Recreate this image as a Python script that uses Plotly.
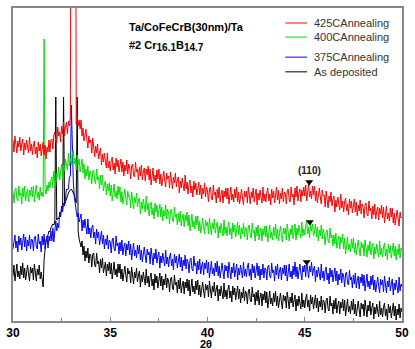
import plotly.graph_objects as go

# 2-theta sampling grid (degrees)
two_theta = [
    30.00, 30.05, 30.10, 30.15, 30.20, 30.25, 30.30, 30.35, 30.40, 30.45, 30.50, 30.55, 30.60, 30.65, 30.70, 30.75, 30.80, 30.85, 30.90, 30.95,
    31.00, 31.05, 31.10, 31.15, 31.20, 31.25, 31.30, 31.35, 31.40, 31.45, 31.50, 31.55, 31.60, 31.65, 31.70, 31.75, 31.80, 31.85, 31.90, 31.95,
    32.00, 32.05, 32.10, 32.15, 32.20, 32.25, 32.30, 32.35, 32.40, 32.45, 32.50, 32.55, 32.60, 32.65, 32.70, 32.75, 32.80, 32.85, 32.90, 32.95,
    33.00, 33.05, 33.10, 33.15, 33.20, 33.25, 33.30, 33.35, 33.40, 33.45, 33.50, 33.55, 33.60, 33.65, 33.70, 33.75, 33.80, 33.85, 33.90, 33.95,
    34.00, 34.05, 34.10, 34.15, 34.20, 34.25, 34.30, 34.35, 34.40, 34.45, 34.50, 34.55, 34.60, 34.65, 34.70, 34.75, 34.80, 34.85, 34.90, 34.95,
    35.00, 35.05, 35.10, 35.15, 35.20, 35.25, 35.30, 35.35, 35.40, 35.45, 35.50, 35.55, 35.60, 35.65, 35.70, 35.75, 35.80, 35.85, 35.90, 35.95,
    36.00, 36.05, 36.10, 36.15, 36.20, 36.25, 36.30, 36.35, 36.40, 36.45, 36.50, 36.55, 36.60, 36.65, 36.70, 36.75, 36.80, 36.85, 36.90, 36.95,
    37.00, 37.05, 37.10, 37.15, 37.20, 37.25, 37.30, 37.35, 37.40, 37.45, 37.50, 37.55, 37.60, 37.65, 37.70, 37.75, 37.80, 37.85, 37.90, 37.95,
    38.00, 38.05, 38.10, 38.15, 38.20, 38.25, 38.30, 38.35, 38.40, 38.45, 38.50, 38.55, 38.60, 38.65, 38.70, 38.75, 38.80, 38.85, 38.90, 38.95,
    39.00, 39.05, 39.10, 39.15, 39.20, 39.25, 39.30, 39.35, 39.40, 39.45, 39.50, 39.55, 39.60, 39.65, 39.70, 39.75, 39.80, 39.85, 39.90, 39.95,
    40.00, 40.05, 40.10, 40.15, 40.20, 40.25, 40.30, 40.35, 40.40, 40.45, 40.50, 40.55, 40.60, 40.65, 40.70, 40.75, 40.80, 40.85, 40.90, 40.95,
    41.00, 41.05, 41.10, 41.15, 41.20, 41.25, 41.30, 41.35, 41.40, 41.45, 41.50, 41.55, 41.60, 41.65, 41.70, 41.75, 41.80, 41.85, 41.90, 41.95,
    42.00, 42.05, 42.10, 42.15, 42.20, 42.25, 42.30, 42.35, 42.40, 42.45, 42.50, 42.55, 42.60, 42.65, 42.70, 42.75, 42.80, 42.85, 42.90, 42.95,
    43.00, 43.05, 43.10, 43.15, 43.20, 43.25, 43.30, 43.35, 43.40, 43.45, 43.50, 43.55, 43.60, 43.65, 43.70, 43.75, 43.80, 43.85, 43.90, 43.95,
    44.00, 44.05, 44.10, 44.15, 44.20, 44.25, 44.30, 44.35, 44.40, 44.45, 44.50, 44.55, 44.60, 44.65, 44.70, 44.75, 44.80, 44.85, 44.90, 44.95,
    45.00, 45.05, 45.10, 45.15, 45.20, 45.25, 45.30, 45.35, 45.40, 45.45, 45.50, 45.55, 45.60, 45.65, 45.70, 45.75, 45.80, 45.85, 45.90, 45.95,
    46.00, 46.05, 46.10, 46.15, 46.20, 46.25, 46.30, 46.35, 46.40, 46.45, 46.50, 46.55, 46.60, 46.65, 46.70, 46.75, 46.80, 46.85, 46.90, 46.95,
    47.00, 47.05, 47.10, 47.15, 47.20, 47.25, 47.30, 47.35, 47.40, 47.45, 47.50, 47.55, 47.60, 47.65, 47.70, 47.75, 47.80, 47.85, 47.90, 47.95,
    48.00, 48.05, 48.10, 48.15, 48.20, 48.25, 48.30, 48.35, 48.40, 48.45, 48.50, 48.55, 48.60, 48.65, 48.70, 48.75, 48.80, 48.85, 48.90, 48.95,
    49.00, 49.05, 49.10, 49.15, 49.20, 49.25, 49.30, 49.35, 49.40, 49.45, 49.50, 49.55, 49.60, 49.65, 49.70, 49.75, 49.80, 49.85, 49.90, 49.95,
    50.00,
]

# Intensities (arb. units, curves vertically offset as in the figure)
anneal_425 = [
    181, 169, 185, 173, 168, 180, 174, 184, 170, 177, 182, 166, 178, 171, 181, 174, 168, 184, 170, 177,
    166, 176, 180, 167, 174, 163, 179, 170, 177, 165, 171, 179, 166, 176, 162, 174, 169, 181, 169, 181,
    182, 172, 186, 189, 179, 178, 194, 185, 189, 179, 195, 187, 199, 185, 194, 199, 187, 200, 195, 205,
    650, 650, 650, 650, 650, 197, 204, 195, 201, 192, 201, 185, 193, 180, 189, 192, 181, 173, 185, 178,
    181, 168, 183, 170, 164, 175, 168, 177, 162, 168, 173, 156, 167, 159, 168, 160, 153, 168, 153, 160,
    150, 160, 164, 151, 158, 147, 163, 154, 161, 149, 154, 162, 149, 159, 145, 156, 150, 161, 147, 157,
    153, 142, 155, 157, 146, 144, 159, 149, 152, 141, 154, 145, 156, 141, 149, 153, 140, 152, 146, 155,
    141, 152, 136, 147, 153, 140, 146, 138, 151, 142, 152, 137, 147, 135, 146, 150, 141, 134, 148, 142,
    145, 133, 149, 137, 132, 144, 138, 148, 134, 141, 144, 128, 140, 133, 143, 136, 130, 146, 132, 139,
    127, 137, 141, 128, 135, 124, 140, 131, 138, 126, 131, 139, 126, 136, 122, 133, 127, 138, 124, 134,
    130, 119, 132, 134, 123, 121, 136, 126, 129, 118, 132, 123, 134, 119, 127, 131, 118, 130, 124, 133,
    122, 133, 117, 128, 134, 121, 127, 119, 132, 123, 134, 119, 129, 117, 128, 132, 123, 116, 130, 124,
    130, 118, 134, 122, 117, 129, 123, 133, 119, 126, 132, 116, 128, 121, 131, 124, 118, 134, 120, 127,
    119, 129, 133, 120, 127, 116, 132, 123, 130, 118, 126, 134, 121, 131, 117, 128, 122, 133, 119, 129,
    128, 117, 130, 132, 121, 119, 134, 124, 127, 116, 133, 124, 135, 120, 128, 132, 119, 131, 125, 134,
    125, 136, 120, 131, 137, 124, 130, 122, 135, 126, 135, 120, 130, 118, 129, 133, 124, 117, 131, 125,
    126, 114, 130, 118, 113, 125, 119, 129, 115, 122, 125, 109, 121, 114, 124, 117, 111, 127, 113, 120,
    109, 119, 123, 110, 117, 106, 122, 113, 120, 108, 114, 122, 109, 119, 105, 116, 110, 121, 107, 117,
    114, 103, 116, 118, 107, 105, 120, 110, 113, 102, 115, 106, 117, 102, 110, 114, 101, 113, 107, 116,
    103, 114, 98, 109, 115, 102, 108, 100, 113, 104, 113, 98, 108, 96, 107, 111, 102, 95, 109, 103,
    104,
]

anneal_400 = [
    129, 118, 131, 133, 122, 120, 135, 125, 128, 117, 133, 124, 135, 120, 128, 132, 119, 131, 125, 134,
    124, 135, 119, 130, 136, 123, 129, 121, 134, 125, 129, 124, 282, 131, 127, 136, 130, 139, 133, 141,
    144, 133, 150, 139, 135, 148, 143, 154, 141, 149, 157, 142, 156, 150, 162, 156, 151, 168, 155, 163,
    156, 167, 171, 157, 163, 151, 166, 156, 162, 149, 155, 162, 148, 157, 142, 152, 145, 155, 141, 150,
    149, 137, 150, 151, 140, 137, 152, 141, 144, 132, 146, 136, 146, 130, 137, 140, 126, 137, 130, 138,
    125, 136, 120, 131, 137, 124, 130, 122, 135, 126, 134, 119, 129, 117, 128, 132, 123, 116, 130, 124,
    125, 113, 129, 117, 112, 124, 118, 128, 114, 121, 123, 107, 119, 112, 122, 115, 109, 125, 111, 118,
    105, 115, 119, 106, 113, 102, 118, 109, 116, 104, 109, 117, 104, 114, 100, 111, 105, 116, 102, 112,
    108, 97, 110, 112, 101, 99, 114, 104, 107, 96, 108, 99, 110, 95, 103, 107, 94, 106, 100, 109,
    95, 106, 90, 101, 107, 94, 100, 92, 105, 96, 105, 90, 100, 88, 99, 103, 94, 87, 101, 95,
    99, 87, 103, 91, 86, 98, 92, 102, 88, 95, 99, 83, 95, 88, 98, 91, 85, 101, 87, 94,
    85, 95, 99, 86, 93, 82, 98, 89, 96, 84, 91, 99, 86, 96, 82, 93, 87, 98, 84, 94,
    92, 81, 94, 96, 85, 83, 98, 88, 91, 80, 94, 85, 96, 81, 89, 93, 80, 92, 86, 95,
    84, 95, 79, 90, 96, 83, 89, 81, 94, 85, 97, 82, 92, 80, 91, 95, 86, 79, 93, 87,
    93, 81, 97, 85, 80, 92, 86, 96, 82, 89, 97, 81, 93, 86, 96, 89, 83, 99, 85, 92,
    86, 96, 100, 87, 94, 83, 99, 90, 97, 85, 89, 97, 84, 94, 80, 91, 85, 96, 82, 92,
    87, 76, 89, 91, 80, 78, 93, 83, 86, 75, 86, 77, 88, 73, 81, 85, 72, 84, 78, 87,
    72, 83, 67, 78, 84, 71, 77, 69, 82, 73, 83, 68, 78, 66, 77, 81, 72, 65, 79, 73,
    77, 65, 81, 69, 64, 76, 70, 80, 66, 73, 78, 62, 74, 67, 77, 70, 64, 80, 66, 73,
    64, 74, 78, 65, 72, 61, 77, 68, 75, 63, 70, 78, 65, 75, 61, 72, 66, 77, 63, 73,
    70,
]

anneal_375 = [
    72, 82, 86, 73, 80, 69, 85, 76, 83, 71, 79, 87, 74, 84, 70, 81, 75, 86, 72, 82,
    81, 70, 83, 85, 74, 72, 87, 77, 80, 69, 85, 76, 87, 72, 81, 85, 73, 85, 80, 90,
    80, 93, 79, 92, 100, 90, 98, 93, 109, 104, 115, 109, 118, 115, 126, 132, 131, 132, 144, 145,
    216, 165, 140, 125, 115, 110, 104, 108, 99, 103, 107, 90, 101, 93, 102, 94, 87, 102, 87, 93,
    83, 93, 96, 83, 89, 77, 92, 83, 89, 76, 83, 90, 77, 86, 72, 82, 76, 86, 72, 81,
    79, 68, 81, 83, 72, 70, 85, 75, 78, 67, 79, 70, 81, 66, 74, 78, 65, 77, 71, 80,
    66, 77, 61, 72, 78, 65, 71, 63, 76, 67, 76, 61, 71, 59, 70, 74, 65, 58, 72, 66,
    69, 57, 73, 61, 56, 68, 62, 72, 58, 65, 69, 53, 65, 58, 68, 61, 55, 71, 57, 64,
    54, 64, 68, 55, 62, 51, 67, 58, 65, 53, 59, 67, 54, 64, 50, 61, 55, 66, 52, 62,
    59, 48, 61, 63, 52, 50, 65, 55, 58, 47, 60, 51, 62, 47, 55, 59, 46, 58, 52, 61,
    48, 59, 43, 54, 60, 47, 53, 45, 58, 49, 60, 45, 55, 43, 54, 58, 49, 42, 56, 50,
    55, 43, 59, 47, 42, 54, 48, 58, 44, 51, 57, 41, 53, 46, 56, 49, 43, 59, 45, 52,
    44, 54, 58, 45, 52, 41, 57, 48, 55, 43, 50, 58, 45, 55, 41, 52, 46, 57, 43, 53,
    52, 41, 54, 56, 45, 43, 58, 48, 51, 40, 55, 46, 57, 42, 50, 54, 41, 53, 47, 56,
    45, 56, 40, 51, 57, 44, 50, 42, 55, 46, 59, 44, 54, 42, 53, 57, 48, 41, 55, 49,
    56, 44, 60, 48, 43, 55, 49, 59, 45, 52, 55, 39, 51, 44, 54, 47, 41, 57, 43, 50,
    40, 50, 54, 41, 48, 37, 53, 44, 51, 39, 45, 53, 40, 50, 36, 47, 41, 52, 38, 48,
    45, 34, 47, 49, 38, 36, 51, 41, 44, 33, 46, 37, 48, 33, 41, 45, 32, 44, 38, 47,
    35, 46, 30, 41, 47, 34, 40, 32, 45, 36, 46, 31, 41, 29, 40, 44, 35, 28, 42, 36,
    41, 29, 45, 33, 28, 40, 34, 44, 30, 37, 42, 26, 38, 31, 41, 34, 28, 44, 30, 37,
    34,
]

as_deposited = [
    45, 56, 40, 51, 57, 44, 50, 42, 55, 46, 58, 43, 53, 41, 52, 56, 47, 40, 54, 48,
    53, 41, 57, 45, 40, 52, 46, 56, 42, 49, 41, 34, 62, 74, 80, 84, 86, 90, 89, 93,
    95, 97, 96, 100, 224, 101, 103, 102, 106, 108, 110, 113, 224, 117, 119, 123, 125, 128, 130, 131,
    132, 130, 128, 126, 122, 118, 224, 90, 82, 76, 74, 80, 66, 75, 60, 70, 63, 73, 58, 67,
    66, 54, 67, 68, 56, 54, 68, 57, 60, 48, 62, 53, 63, 48, 55, 59, 45, 57, 50, 59,
    47, 58, 42, 53, 59, 46, 52, 44, 57, 48, 57, 42, 52, 40, 51, 55, 46, 39, 53, 47,
    50, 38, 54, 42, 37, 49, 43, 53, 39, 46, 50, 34, 46, 39, 49, 42, 36, 52, 38, 45,
    34, 44, 48, 35, 42, 31, 47, 38, 45, 33, 40, 48, 35, 45, 31, 42, 36, 47, 33, 43,
    40, 29, 42, 44, 33, 31, 46, 36, 39, 28, 41, 32, 43, 28, 36, 40, 27, 39, 33, 42,
    30, 41, 25, 36, 42, 29, 35, 27, 40, 31, 41, 26, 36, 24, 35, 39, 30, 23, 37, 31,
    36, 24, 40, 28, 23, 35, 29, 39, 25, 32, 36, 20, 32, 25, 35, 28, 22, 38, 24, 31,
    22, 32, 36, 23, 30, 19, 35, 26, 33, 21, 27, 35, 22, 32, 18, 29, 23, 34, 20, 30,
    28, 17, 30, 32, 21, 19, 34, 24, 27, 16, 29, 20, 31, 16, 24, 28, 15, 27, 21, 30,
    18, 29, 13, 24, 30, 17, 23, 15, 28, 19, 30, 15, 25, 13, 24, 28, 19, 12, 26, 20,
    25, 13, 29, 17, 12, 24, 18, 28, 14, 21, 26, 10, 22, 15, 25, 18, 12, 28, 14, 21,
    13, 23, 27, 14, 21, 10, 26, 17, 24, 12, 18, 26, 13, 23, 9, 20, 14, 25, 11, 21,
    19, 8, 21, 23, 12, 10, 25, 15, 18, 7, 21, 12, 23, 8, 16, 20, 7, 19, 13, 22,
    10, 21, 5, 16, 22, 9, 15, 7, 20, 11, 22, 7, 17, 5, 16, 20, 11, 4, 18, 12,
    17, 5, 21, 9, 4, 16, 10, 20, 6, 13, 18, 2, 14, 7, 17, 10, 4, 20, 6, 13,
    4, 14, 18, 5, 12, 1, 17, 8, 15, 3, 10, 18, 5, 15, 1, 12, 6, 17, 3, 13,
    9,
]

series_names = ["425CAnnealing", "400CAnnealing", "375CAnnealing", "As deposited"]
series_colors = ["#ff0000", "#00e000", "#0000ff", "#000000"]

# (110) peak markers
marker_x = [45.23, 45.26, 45.1]
marker_y = [139, 99, 59]
peak_label = "(110)"
peak_label_x = 45.22
peak_label_y = 151

x_ticks = [30, 35, 40, 45, 50]
x_minor = [32.5, 37.5, 42.5, 47.5]

FONT = "Liberation Sans, Arial, sans-serif"

series = [anneal_425, anneal_400, anneal_375, as_deposited]
for s in series:
    assert len(s) == len(two_theta), len(s)

fig = go.Figure()
for i in [3, 2, 1, 0]:
    fig.add_trace(go.Scatter(
        x=two_theta, y=series[i], mode="lines", name=series_names[i],
        line=dict(color=series_colors[i], width=1), showlegend=False,
    ))

fig.add_trace(go.Scatter(
    x=marker_x, y=marker_y, mode="markers", showlegend=False,
    marker=dict(symbol="triangle-down", size=7, color="black"),
))

annotations = [
    dict(x=peak_label_x, y=peak_label_y, xref="x", yref="y", text=peak_label,
         showarrow=False, font=dict(family=FONT, size=10, color="#222", weight="bold")),
    dict(x=0.292, y=0.939, xref="paper", yref="paper", xanchor="left", yanchor="middle",
         text="Ta/CoFeCrB(30nm)/Ta", showarrow=False,
         font=dict(family=FONT, size=11, color="black", weight="bold")),
    dict(x=0.292, y=0.878, xref="paper", yref="paper", xanchor="left", yanchor="middle",
         text='#2 Cr<sub><span style="font-size:10px">16.1</span></sub>B<sub><span style="font-size:10px">14.7</span></sub>',
         showarrow=False, font=dict(family=FONT, size=11, color="black", weight="bold")),
    dict(x=0.497, y=-0.072, xref="paper", yref="paper", xanchor="center", yanchor="middle",
         text="2θ", showarrow=False,
         font=dict(family=FONT, size=11, color="black", weight="bold")),
]

shapes = []
legend_y = [0.952, 0.907, 0.843, 0.796]
for name, color, ly in zip(series_names, series_colors, legend_y):
    shapes.append(dict(type="line", xref="paper", yref="paper", x0=0.700, x1=0.756,
                       y0=ly, y1=ly, line=dict(color=color, width=1)))
    annotations.append(dict(x=0.768, y=ly, xref="paper", yref="paper", xanchor="left",
                            yanchor="middle", text=name, showarrow=False,
                            font=dict(family=FONT, size=11, color="#333")))

fig.update_layout(
    width=415, height=349,
    margin=dict(l=12, r=6, t=8, b=28),
    paper_bgcolor="white", plot_bgcolor="white",
    annotations=annotations, shapes=shapes,
    xaxis=dict(range=[30, 50], tickvals=x_ticks, ticks="inside", ticklen=4,
               tickcolor="#888", linecolor="#888", linewidth=1.5, mirror=True,
               showgrid=False, zeroline=False,
               minor=dict(tickvals=x_minor, ticks="inside", ticklen=3, tickcolor="#888"),
               tickfont=dict(family=FONT, size=12, color="black", weight="bold")),
    yaxis=dict(range=[0, 313], showticklabels=False, ticks="", linecolor="#888",
               linewidth=1.5, mirror=True, showgrid=False, zeroline=False),
)

fig.write_html(
    "out.html",
    config={"displayModeBar": False},
    post_script="document.body.style.margin='0';document.body.style.overflow='hidden';",
)
